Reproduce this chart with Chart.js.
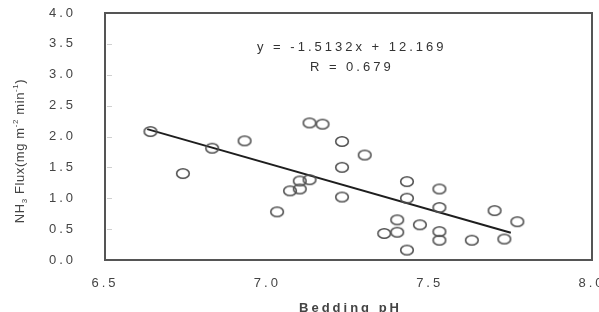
<!DOCTYPE html>
<html>
<head>
<meta charset="utf-8">
<script src="https://cdn.jsdelivr.net/npm/chart.js@4/dist/chart.umd.min.js"></script>
<style>
  html, body { margin: 0; padding: 0; background: #fff; }
  #wrap { width: 599px; height: 312px; }
</style>
</head>
<body>
<div id="wrap"><canvas id="fluxChart"></canvas></div>
<script>
// bedding pH vs NH3 flux
const beddingPH = [6.64, 6.83, 6.93, 6.74, 7.03, 7.13, 7.17, 7.23, 7.30, 7.23,
                   7.10, 7.13, 7.07, 7.10, 7.23, 7.43, 7.53, 7.43, 7.53, 7.40,
                   7.47, 7.36, 7.40, 7.53, 7.53, 7.63, 7.43, 7.70, 7.77, 7.73];
const nh3Flux   = [2.08, 1.81, 1.93, 1.40, 0.78, 2.22, 2.20, 1.92, 1.70, 1.50,
                   1.28, 1.30, 1.12, 1.15, 1.02, 1.27, 1.15, 1.00, 0.85, 0.65,
                   0.57, 0.43, 0.45, 0.46, 0.32, 0.32, 0.16, 0.80, 0.62, 0.34];
const trendX = [6.63, 7.75];
const trendY = [2.12, 0.44];
const xTicks = [6.5, 7.0, 7.5, 8.0];
const yTicks = [0, 0.5, 1.0, 1.5, 2.0, 2.5, 3.0, 3.5, 4.0];
const eqText = 'y = -1.5132x + 12.169';
const rText = 'R = 0.679';
const xTitle = 'Bedding pH';

const TXT = '#444';
const FONT = '"Liberation Sans", Arial, sans-serif';

// hollow ellipse marker
const marker = document.createElement('canvas');
marker.width = 16; marker.height = 13;
(() => {
    const c = marker.getContext('2d');
    c.strokeStyle = '#505050';
    c.lineWidth = 1.6;
    c.beginPath();
    c.ellipse(8, 6.5, 6.3, 4.8, 0, 0, Math.PI * 2);
    c.stroke();
})();

const noPad = s => {
    s.paddingTop = 0; s.paddingBottom = 0;
    s.paddingLeft = 0; s.paddingRight = 0;
};

const spacing = {
    id: 'spacing',
    beforeDraw(chart) { chart.ctx.letterSpacing = '3px'; }
};

const frame = {
    id: 'frame',
    beforeDatasetsDraw(chart) {
        const { ctx, chartArea: a, scales } = chart;
        ctx.save();
        // faint inner ticks on the y axis
        ctx.strokeStyle = '#d0d0d0';
        ctx.lineWidth = 1;
        yTicks.slice(1, -1).forEach(v => {
            const y = Math.round(scales.y.getPixelForValue(v)) + 0.5;
            ctx.beginPath();
            ctx.moveTo(a.left + 2, y);
            ctx.lineTo(a.left + 7, y);
            ctx.stroke();
        });
        ctx.strokeStyle = '#555';
        ctx.lineWidth = 2;
        ctx.strokeRect(a.left, a.top, a.right - a.left, a.bottom - a.top);
        ctx.restore();
    },
    afterDraw(chart) {
        const { ctx, chartArea: a, scales } = chart;
        ctx.save();
        // equation
        ctx.fillStyle = '#333';
        ctx.font = '13px ' + FONT;
        ctx.letterSpacing = '3px';
        ctx.textAlign = 'center';
        ctx.textBaseline = 'middle';
        const cx = scales.x.getPixelForValue(7.26);
        ctx.fillText(eqText, cx, 47);
        ctx.fillText(rText, cx, 67);
        // x title
        ctx.fillStyle = TXT;
        ctx.font = 'bold 13px ' + FONT;
        ctx.letterSpacing = '3px';
        ctx.textBaseline = 'alphabetic';
        ctx.fillText(xTitle, (a.left + a.right) / 2 + 2, 312);
        // y title with sub/superscripts
        ctx.letterSpacing = '0.6px';
        ctx.translate(24, 151);
        ctx.rotate(-Math.PI / 2);
        const parts = [
            ['NH', 13, 0], ['3', 8, 3], [' Flux(mg m', 13, 0], ['-2', 8, -6],
            [' min', 13, 0], ['-1', 8, -6], [')', 13, 0]
        ];
        let total = 0;
        parts.forEach(p => { ctx.font = p[1] + 'px ' + FONT; total += ctx.measureText(p[0]).width; });
        let x = -total / 2;
        ctx.textAlign = 'left';
        parts.forEach(p => {
            ctx.font = p[1] + 'px ' + FONT;
            ctx.fillText(p[0], x, p[2]);
            x += ctx.measureText(p[0]).width;
        });
        ctx.restore();
    }
};

new Chart(document.getElementById('fluxChart'), {
    type: 'scatter',
    data: {
        datasets: [
            {
                data: beddingPH.map((v, i) => ({ x: v, y: nh3Flux[i] })),
                pointStyle: marker,
                pointRadius: 6,
                pointHoverRadius: 6
            },
            {
                data: trendX.map((v, i) => ({ x: v, y: trendY[i] })),
                showLine: true,
                borderColor: '#1e1e1e',
                borderWidth: 2,
                pointRadius: 0
            }
        ]
    },
    options: {
        responsive: true,
        maintainAspectRatio: false,
        animation: false,
        events: [],
        layout: { padding: { top: 13, right: 7, bottom: 0, left: 0 } },
        plugins: { legend: { display: false }, tooltip: { enabled: false } },
        scales: {
            x: {
                min: 6.5, max: 8.0,
                afterBuildTicks: s => { s.ticks = xTicks.map(v => ({ value: v })); },
                afterFit: s => { s.height = 52; noPad(s); },
                grid: { display: false },
                border: { display: false },
                ticks: {
                    color: TXT,
                    padding: 8,
                    maxRotation: 0,
                    font: { family: FONT, size: 13 },
                    callback: v => v.toFixed(1)
                }
            },
            y: {
                min: 0, max: 4,
                afterBuildTicks: s => { s.ticks = yTicks.map(v => ({ value: v })); },
                afterFit: s => { s.width = 105; noPad(s); },
                grid: { display: false },
                border: { display: false },
                ticks: {
                    color: TXT,
                    padding: 21,
                    font: { family: FONT, size: 13 },
                    callback: v => v.toFixed(1)
                }
            }
        }
    },
    plugins: [spacing, frame]
});
</script>
</body>
</html>
